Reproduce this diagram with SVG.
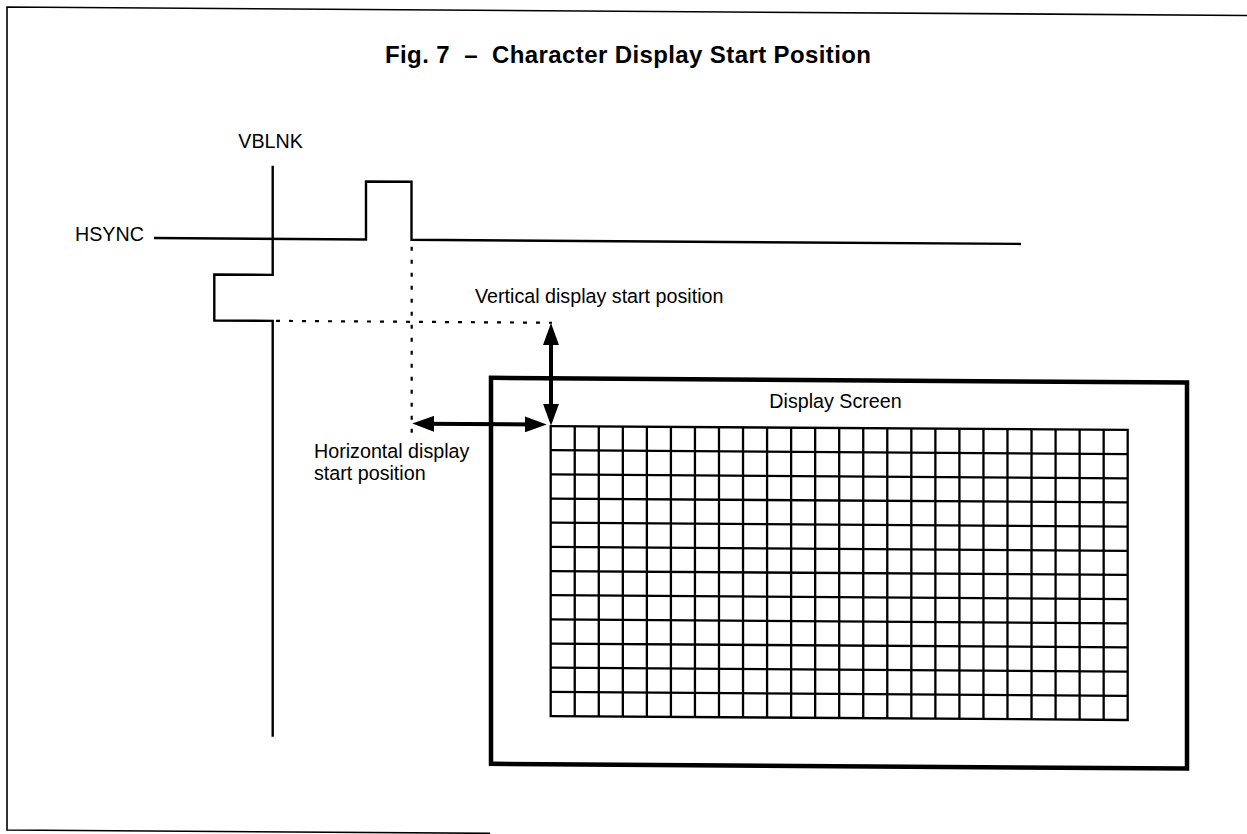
<svg xmlns="http://www.w3.org/2000/svg" width="1247" height="834" viewBox="0 0 1247 834">
  <style>
    .lbl { font-family: "Liberation Sans", Arial, sans-serif; font-size: 19.7px; fill: #000; }
    .title { font-family: "Liberation Sans", Arial, sans-serif; font-size: 24px; font-weight: bold; fill: #000; white-space: pre; }
    .frame { fill: none; stroke: #000; stroke-width: 1.6; }
    .wave { fill: none; stroke: #000; stroke-width: 2.4; }
    .dot { fill: none; stroke: #000; stroke-width: 2.2; stroke-dasharray: 4 9; }
    .arrow { fill: none; stroke: #000; stroke-width: 4; }
    .box { fill: none; stroke: #000; stroke-width: 4.5; }
    .grid { fill: none; stroke: #000; stroke-width: 2.3; }
  </style>
  <defs>
    <marker id="head" markerUnits="userSpaceOnUse" markerWidth="22" markerHeight="16" viewBox="0 0 22 16" refX="12" refY="8" orient="auto-start-reverse">
      <path d="M0,0 L22,8 L0,16 z" fill="#000"/>
    </marker>
  </defs>
  <rect x="0" y="0" width="1247" height="834" fill="#fff"/>
  <g transform="matrix(1,0.0068,0,1,0,0)">
    <g id="frame">
      <path class="frame" d="M1247,7 H7 V830 H490"/>
    </g>
    <g id="hsync">
      <path class="wave" d="M154,237 H366 V179 H411.5 V237 H1021"/>
    </g>
    <g id="vblnk">
      <path class="wave" d="M272.7,164 V273 H214.3 V319 H272.7 V735"/>
    </g>
    <g id="guides">
      <line class="dot" x1="276" y1="319" x2="552" y2="319"/>
      <line class="dot" x1="411.7" y1="244" x2="411.7" y2="437"/>
    </g>
    <g id="connectors">
      <line class="arrow" x1="551" y1="329.3" x2="551" y2="412" marker-start="url(#head)" marker-end="url(#head)"/>
      <line class="arrow" x1="422.3" y1="420.8" x2="536.7" y2="420.8" marker-start="url(#head)" marker-end="url(#head)"/>
    </g>
    <g id="screen">
      <rect class="box" x="491" y="374.5" width="696" height="386"/>
      <g id="grid">
        <rect class="grid" x="550.7" y="422.3" width="577" height="290"/>
        <path class="grid" d="M574.74,422.3 V712.3 M598.78,422.3 V712.3 M622.83,422.3 V712.3 M646.87,422.3 V712.3 M670.91,422.3 V712.3 M694.95,422.3 V712.3 M718.99,422.3 V712.3 M743.03,422.3 V712.3 M767.08,422.3 V712.3 M791.12,422.3 V712.3 M815.16,422.3 V712.3 M839.2,422.3 V712.3 M863.24,422.3 V712.3 M887.28,422.3 V712.3 M911.33,422.3 V712.3 M935.37,422.3 V712.3 M959.41,422.3 V712.3 M983.45,422.3 V712.3 M1007.49,422.3 V712.3 M1031.53,422.3 V712.3 M1055.58,422.3 V712.3 M1079.62,422.3 V712.3 M1103.66,422.3 V712.3"/>
        <path class="grid" d="M550.7,446.47 H1127.7 M550.7,470.63 H1127.7 M550.7,494.8 H1127.7 M550.7,518.97 H1127.7 M550.7,543.13 H1127.7 M550.7,567.3 H1127.7 M550.7,591.47 H1127.7 M550.7,615.63 H1127.7 M550.7,639.8 H1127.7 M550.7,663.97 H1127.7 M550.7,688.13 H1127.7"/>
      </g>
    </g>
  </g>
  <g id="title">
    <text class="title" xml:space="preserve" x="628" y="63" text-anchor="middle" textLength="486" lengthAdjust="spacing">Fig. 7  –  Character Display Start Position</text>
  </g>
  <g id="labels">
    <text class="lbl" x="238.3" y="148.3">VBLNK</text>
    <text class="lbl" x="75" y="240.7">HSYNC</text>
    <text class="lbl" x="475" y="302.7">Vertical display start position</text>
    <text class="lbl" x="769.3" y="408.3">Display Screen</text>
    <text class="lbl" x="314" y="458.3">Horizontal display</text>
    <text class="lbl" x="314" y="480">start position</text>
  </g>
</svg>
